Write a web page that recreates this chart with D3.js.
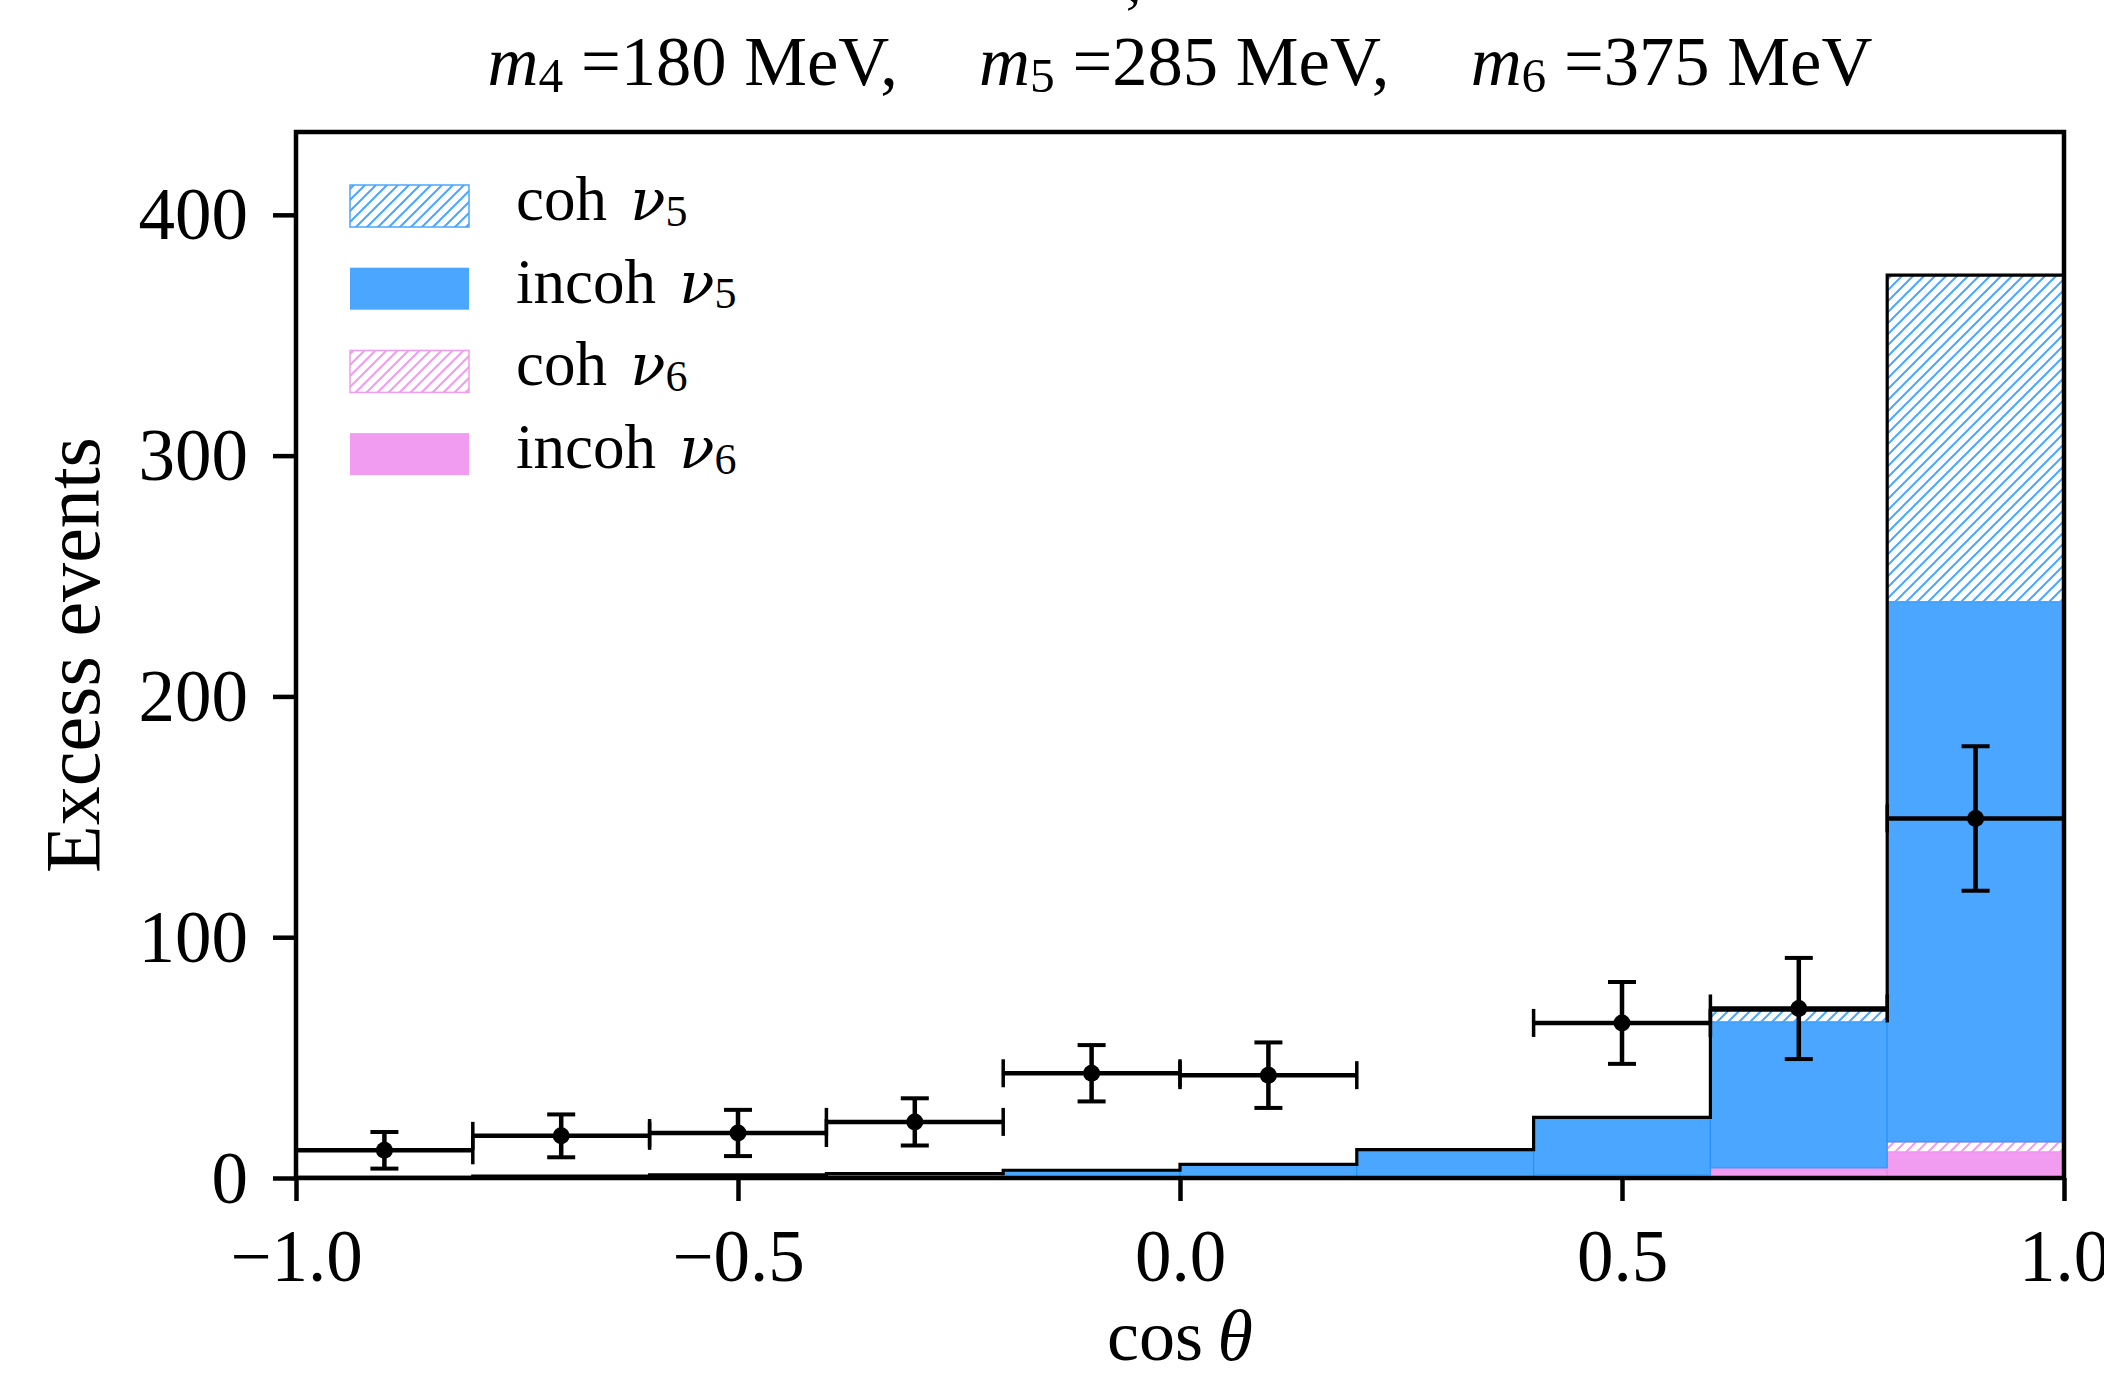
<!DOCTYPE html>
<html><head><meta charset="utf-8">
<script src="https://cdn.jsdelivr.net/npm/d3@7/dist/d3.min.js"></script>
<style>
body{margin:0;background:#fff}
svg{display:block}
text{font-family:"Liberation Serif","DejaVu Serif",serif;fill:#000}
</style>
</head><body>
<svg id="chart" width="2104" height="1376"></svg>
<script>
// ---------- data ----------
const binEdges = [-1.0,-0.8,-0.6,-0.4,-0.2,0.0,0.2,0.4,0.6,0.8,1.0];
const incohNu6 = [0.0, 0.0, 0.01, 0.02, 0.05, 0.1, 0.3, 1.0, 3.7, 10.8];
const cohNu6   = [0.0, 0.0, 0.0, 0.0, 0.01, 0.02, 0.05, 0.2, 0.5, 4.2];
const incohNu5 = [0.25, 0.75, 1.2, 1.7, 3.0, 5.3, 11.0, 23.3, 60.6, 224.3];
const cohNu5   = [0.05, 0.05, 0.09, 0.08, 0.15, 0.28, 0.45, 0.7, 4.9, 135.7];
const dataX    = [-0.9,-0.7,-0.5,-0.3,-0.1,0.1,0.3,0.5,0.7,0.9];
const dataY    = [11.5, 17.5, 18.7, 23.3, 43.5, 42.7, -12.0, 64.4, 70.4, 149.3];
const dataErr  = [7.6, 8.9, 9.6, 9.8, 11.7, 13.6, 12.0, 17.0, 21.0, 30.0];
const dataXErr = [0.1,0.1,0.1,0.1,0.1,0.1,0.1,0.1,0.1,0.1];
const xTicks = [-1.0,-0.5,0.0,0.5,1.0];
const yTicks = [0,100,200,300,400];
const legendLabels = [
  {name:"coh", sub:"5"},
  {name:"incoh", sub:"5"},
  {name:"coh", sub:"6"},
  {name:"incoh", sub:"6"}
];
const titleParts = [["4","180"],["5","285"],["6","375"]];

// ---------- layout ----------
const M = {l:296, r:2064, t:132, b:1178};
const svg = d3.select("#chart");
const defs = svg.append("defs");
const x = d3.scaleLinear().domain([-1,1]).range([M.l, M.r]);
const y = d3.scaleLinear().domain([0,434.4]).range([M.b, M.t]);

const BLUE = "#4ba6ff", PINK = "#f19bf1";

function hatch(id,color,s){
  const p = defs.append("pattern").attr("id",id).attr("patternUnits","userSpaceOnUse")
    .attr("width",s).attr("height",s);
  p.append("path")
    .attr("d",`M0,${s} L${s},0 M${-s/2},${s/2} L${s/2},${-s/2} M${s/2},${s*1.5} L${s*1.5},${s/2}`)
    .attr("stroke",color).attr("stroke-width",2).attr("fill","none");
}
hatch("hBlue",BLUE,11);
hatch("hPink",PINK,11);

defs.append("clipPath").attr("id","clipAx").append("rect")
  .attr("x",M.l).attr("y",M.t).attr("width",M.r-M.l).attr("height",M.b-M.t);

// stacked table
const rows = incohNu6.map((d,i)=>({lo:binEdges[i],hi:binEdges[i+1],
  incohNu6:incohNu6[i],cohNu6:cohNu6[i],incohNu5:incohNu5[i],cohNu5:cohNu5[i]}));
const keys = ["incohNu6","cohNu6","incohNu5","cohNu5"];
const styles = {
  incohNu6:{fill:PINK, stroke:"rgba(238,130,238,0.8)"},
  cohNu6:{fill:"url(#hPink)", stroke:PINK},
  incohNu5:{fill:BLUE, stroke:"rgba(30,144,255,0.8)"},
  cohNu5:{fill:"url(#hBlue)", stroke:BLUE}
};
const stacked = d3.stack().keys(keys)(rows);

const gBars = svg.append("g").attr("clip-path","url(#clipAx)");
stacked.forEach(layer=>{
  const st = styles[layer.key];
  gBars.selectAll(null).data(layer).join("rect")
    .attr("x",d=>x(d.data.lo)).attr("width",d=>x(d.data.hi)-x(d.data.lo))
    .attr("y",d=>y(d[1])).attr("height",d=>Math.max(0,y(d[0])-y(d[1])))
    .attr("fill",st.fill).attr("stroke",st.stroke).attr("stroke-width",1.2);
});

// total step outline
const totals = rows.map(r=>keys.reduce((s,k)=>s+r[k],0));
let pts = [[binEdges[0],0]];
totals.forEach((t,i)=>{pts.push([binEdges[i],t]);pts.push([binEdges[i+1],t]);});
pts.push([binEdges[binEdges.length-1],0]);
gBars.append("path")
  .attr("d",d3.line().x(d=>x(d[0])).y(d=>y(d[1]))(pts))
  .attr("fill","none").attr("stroke","#000").attr("stroke-width",3.2)
  .attr("stroke-linejoin","miter");

// error bars
const gErr = svg.append("g").attr("clip-path","url(#clipAx)").attr("stroke","#000");
const cap = 14;
dataX.forEach((xc,i)=>{
  const v=dataY[i], e=dataErr[i], xe=dataXErr[i];
  const g = gErr.append("g");
  g.append("line").attr("x1",x(xc-xe)).attr("x2",x(xc+xe)).attr("y1",y(v)).attr("y2",y(v)).attr("stroke-width",4.5);
  g.append("line").attr("x1",x(xc)).attr("x2",x(xc)).attr("y1",y(v-e)).attr("y2",y(v+e)).attr("stroke-width",4.5);
  [v-e,v+e].forEach(yy=>g.append("line").attr("x1",x(xc)-cap).attr("x2",x(xc)+cap).attr("y1",y(yy)).attr("y2",y(yy)).attr("stroke-width",4));
  [xc-xe,xc+xe].forEach(xx=>g.append("line").attr("x1",x(xx)).attr("x2",x(xx)).attr("y1",y(v)-cap).attr("y2",y(v)+cap).attr("stroke-width",3.5));
  g.append("circle").attr("cx",x(xc)).attr("cy",y(v)).attr("r",8.5).attr("fill","#000").attr("stroke","none");
});

// axes
const fmtX = d=> (d<0?"\u2212":"") + Math.abs(d).toFixed(1);
const gx = svg.append("g").attr("transform",`translate(0,${M.b})`)
  .call(d3.axisBottom(x).tickValues(xTicks).tickSize(23).tickFormat(fmtX));
gx.select(".domain").remove();
gx.selectAll(".tick line").attr("stroke","#000").attr("stroke-width",4.5);
gx.selectAll(".tick text").attr("y",103).attr("dy",0).attr("font-size",73)
  .style("font-family",'"Liberation Serif",serif');

const gy = svg.append("g").attr("transform",`translate(${M.l},0)`)
  .call(d3.axisLeft(y).tickValues(yTicks).tickSize(23).tickFormat(d3.format("d")));
gy.select(".domain").remove();
gy.selectAll(".tick line").attr("stroke","#000").attr("stroke-width",4.5);
gy.selectAll(".tick text").attr("x",-48).attr("dy","0.33em").attr("font-size",73)
  .style("font-family",'"Liberation Serif",serif');

// spines
svg.append("rect").attr("x",M.l).attr("y",M.t).attr("width",M.r-M.l).attr("height",M.b-M.t)
  .attr("fill","none").attr("stroke","#000").attr("stroke-width",4.5);

// axis labels
svg.append("text").attr("x",(M.l+M.r)/2).attr("y",1360).attr("text-anchor","middle")
  .attr("font-size",72)
  .call(t=>{t.append("tspan").text("cos\u2009");t.append("tspan").attr("font-style","italic").text("\u03b8");});
const yl = svg.append("text").attr("transform",`translate(99,${(M.t+M.b)/2}) rotate(-90)`)
  .attr("text-anchor","middle").attr("font-size",73).text("Excess events");
{
  const w = yl.node().getComputedTextLength();
  yl.attr("font-size",73*436/w);
}

// title
const title = svg.append("text").attr("x",(M.l+M.r)/2).attr("y",84.5).attr("text-anchor","middle").attr("font-size",60);
titleParts.forEach((p,i)=>{
  title.append("tspan").attr("font-style","italic").text("m");
  title.append("tspan").attr("font-size","0.7em").attr("dy","0.15em").text(p[0]);
  title.append("tspan").attr("dy","-0.105em").text(` =${p[1]} MeV${i<titleParts.length-1?",":""}`);
  if(i<titleParts.length-1) title.append("tspan").attr("dx","0.9em").text(" ");
});
{
  const w = title.node().getBBox().width;
  title.attr("font-size",60*1385/w);
}
// clipped first title line fragment at top edge
svg.append("text").attr("x",1126).attr("y",1).attr("font-size",62).attr("font-style","italic").text(",");

// legend
const legStyles = [styles.cohNu5, styles.incohNu5, styles.cohNu6, styles.incohNu6];
legendLabels.forEach((l,i)=>{
  const y0 = 185 + i*82.7;
  const st = legStyles[i];
  svg.append("rect").attr("x",350).attr("y",y0).attr("width",119).attr("height",42)
    .attr("fill",st.fill).attr("stroke",i%2===0?st.stroke:"none").attr("stroke-width",1.5);
  const t = svg.append("text").attr("x",516).attr("y",y0+35).attr("font-size",63);
  t.append("tspan").text(l.name);
  t.append("tspan").attr("dx","0.4em").attr("font-style","italic")
    .style("font-family",'"DejaVu Serif",serif').attr("font-size",58).text("\u03bd");
  t.append("tspan").attr("font-size",44).attr("dy","0.13em").text(l.sub);
});
</script>
</body></html>
